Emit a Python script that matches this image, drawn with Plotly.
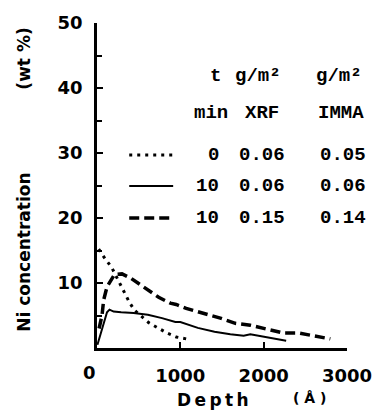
import plotly.graph_objects as go

# ---- data ----
depth_0min = [20, 35, 94, 176, 270, 330, 390, 450, 620, 730, 840, 950, 1070]
conc_0min = [15.2, 14.9, 13.8, 12.4, 10.0, 8.4, 7.0, 5.8, 3.9, 3.1, 2.3, 1.7, 1.4]

depth_10min_a = [5, 60, 120, 150, 200, 290, 440, 610, 740, 780, 940, 1000, 1210, 1410, 1600, 1760, 1840, 1880, 2070, 2270]
conc_10min_a = [0.5, 3.0, 5.5, 5.9, 5.6, 5.5, 5.4, 5.1, 4.8, 4.6, 4.0, 4.0, 3.1, 2.5, 2.1, 1.9, 2.1, 2.0, 1.5, 1.1]

depth_10min_b = [25, 60, 80, 120, 210, 300, 410, 560, 740, 880, 950, 1070, 1270, 1480, 1660, 1840, 2040, 2240, 2420, 2620, 2800]
conc_10min_b = [3.0, 5.0, 7.4, 9.4, 11.3, 11.4, 10.7, 9.4, 7.8, 6.9, 6.7, 6.1, 5.4, 4.6, 3.8, 3.5, 2.9, 2.3, 2.3, 1.8, 1.4]

y_ticks = [10, 20, 30, 40, 50]
x_ticks = [1000, 2000, 3000]

table_header1 = ["t", "g/m²", "g/m²"]
table_header2 = ["min", "XRF", "IMMA"]
table_t = ["0", "10", "10"]
table_xrf = ["0.06", "0.06", "0.15"]
table_imma = ["0.05", "0.06", "0.14"]

# ---- layout geometry (window pixels) ----
W, H = 384, 412
L, R, T, B = 97, 31, 23, 64
PW, PH = W - L - R, H - T - B


def px(x):
    return (x - L) / PW


def py(y):
    return (H - B - y) / PH


fig = go.Figure()
styles = [
    dict(width=3, dash="3px,5px"),
    dict(width=2),
    dict(width=3.5, dash="10px,5px"),
]
series = [(depth_0min, conc_0min), (depth_10min_a, conc_10min_a), (depth_10min_b, conc_10min_b)]
for (xs, ys), st in zip(series, styles):
    fig.add_trace(go.Scatter(x=xs, y=ys, mode="lines", line=dict(color="black", **st),
                             showlegend=False, hoverinfo="skip"))

tickfont = dict(family="DejaVu Sans", size=18, color="black", weight="bold")
fig.update_layout(
    width=W, height=H,
    margin=dict(l=L, r=R, t=T, b=B, pad=0),
    paper_bgcolor="white", plot_bgcolor="white",
    xaxis=dict(range=[0, 3000], showgrid=False, zeroline=False, showline=True,
               linecolor="black", linewidth=2.5, ticks="inside", ticklen=6, tickwidth=2,
               tickcolor="black", tickvals=x_ticks, ticktext=[str(v) for v in x_ticks],
               tickfont=tickfont, ticklabelstandoff=10),
    yaxis=dict(range=[0, 50], showgrid=False, zeroline=False, showline=True,
               linecolor="black", linewidth=2.5, ticks="inside", ticklen=6, tickwidth=2,
               tickcolor="black", tickvals=y_ticks, ticktext=[str(v) for v in y_ticks],
               tickfont=tickfont, ticklabelstandoff=8,
               minor=dict(ticks="inside", dtick=5, ticklen=5, tickwidth=2, tickcolor="black")),
)

ann = []
bold = dict(family="DejaVu Sans", size=17, color="black", weight="bold")
NB = "\u00a0"
TS = "\u2009"
ann.append(dict(x=px(89), y=py(372), text="0", font=tickfont))
ann.append(dict(x=px(22), y=py(180), text="Ni concentration" + NB * 14 + "(wt" + NB + "%)",
                textangle=-90, font=bold))
ann.append(dict(x=px(216), y=py(400), text=TS.join("Depth"), font=bold))
ann.append(dict(x=px(315), y=py(398), text="(" + NB + "Å" + NB + ")",
                font=dict(family="DejaVu Sans", size=14, color="black", weight="bold")))

mono = dict(family="Liberation Mono", size=19, color="black", weight="bold")
for cx, t in zip([218, 262, 345], table_header1):
    ann.append(dict(x=px(cx), y=py(76), text=t, font=mono))
for cx, t in zip([214, 266, 347], table_header2):
    ann.append(dict(x=px(cx), y=py(113), text=t, font=mono))
rows_y = [155, 186, 218]
t_x = [216, 210, 210]
for i, ry in enumerate(rows_y):
    for cx, col in zip([t_x[i], 266, 349], [table_t, table_xrf, table_imma]):
        ann.append(dict(x=px(cx), y=py(ry), text=col[i], font=mono))

for a in ann:
    a.update(xref="paper", yref="paper", showarrow=False, xanchor="center", yanchor="middle")
fig.update_layout(annotations=ann)

for ry, st in zip(rows_y, styles):
    fig.add_shape(type="line", xref="paper", yref="paper", x0=px(130), x1=px(175), y0=py(ry), y1=py(ry),
                  line=dict(color="black", **st))

fig.write_html("out.html",
               config={"displayModeBar": False},
               post_script="document.body.style.margin='0';document.body.style.overflow='hidden';")
